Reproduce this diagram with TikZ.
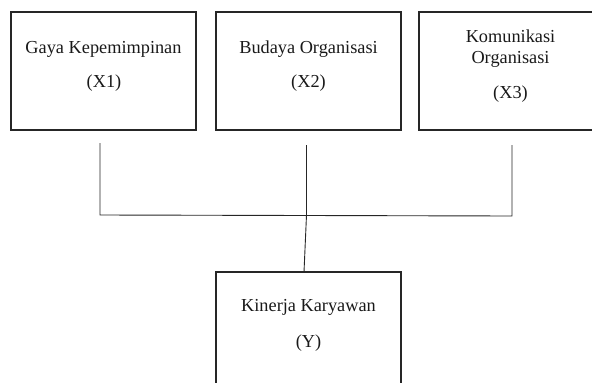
\documentclass[tikz,border=0pt]{standalone}
\usepackage{fontspec}
\setmainfont{Liberation Serif}
\begin{document}
\begin{tikzpicture}[x=1pt,y=-1pt,
  boxnode/.style={draw=black!85,line width=1.1pt,rectangle,minimum width=185pt,minimum height=118pt,inner sep=0pt},
  txt/.style={anchor=base,inner sep=0pt,font=\fontsize{18.3}{20}\selectfont,text=black!90},
  conn/.style={draw=black!85,line width=0.9pt}]
\useasboundingbox (0,0) rectangle (592,383);
\begin{scope}
\clip (0,0) rectangle (592,383);
\node[boxnode] (b1) at (103.5,71) {};
\node[boxnode] (b2) at (308.5,71) {};
\node[boxnode] (b3) at (511.5,71) {};
\node[boxnode] (by) at (308.5,331) {};
\end{scope}
\node[txt] (t1a) at (103.5,53) {Gaya Kepemimpinan};
\node[txt] (t1b) at (104,87) {(X1)};
\node[txt] (t2a) at (308.5,53) {Budaya Organisasi};
\node[txt] (t2b) at (308.5,87) {(X2)};
\node[txt] (t3a) at (510.5,42) {Komunikasi};
\node[txt] (t3b) at (510.5,63) {Organisasi};
\node[txt] (t3c) at (510.5,98) {(X3)};
\node[txt] (tya) at (308.5,311.5) {Kinerja Karyawan};
\node[txt] (tyb) at (308.5,347) {(Y)};
\coordinate (a1) at (100,143);
\coordinate (a2) at (306.5,145);
\coordinate (a3) at (512,145);
\coordinate (j1) at (100,215);
\coordinate (j2) at (306.5,215);
\coordinate (j3) at (512,216);
\coordinate (yt) at (304,272);
\draw[conn] (a1) -- (j1) -- (j3) -- (a3);
\draw[conn] (a2) -- (j2) -- (yt);
\end{tikzpicture}
\end{document}
